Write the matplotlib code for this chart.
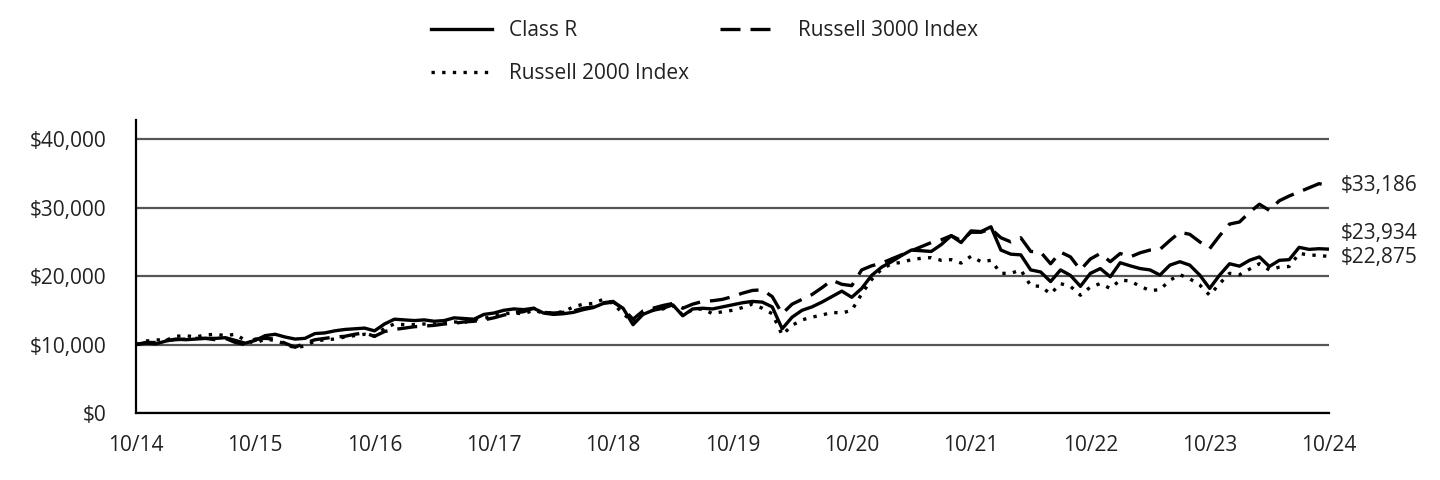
import matplotlib.pyplot as plt
from matplotlib.ticker import FuncFormatter

plt.rcParams['font.family'] = ['Open Sans', 'DejaVu Sans']

# month index 0 = 10/14, 120 = 10/24
class_r = [10000, 10200, 10100, 10500, 10800, 10700, 10800, 10900, 10900, 11000,
           10600, 10200, 10600, 11300, 11500, 11100, 10800, 10900, 11600, 11700,
           12000, 12200, 12300, 12400, 12000, 13000, 13700, 13600, 13500, 13600,
           13400, 13500, 13900, 13800, 13700, 14400, 14600, 15000, 15200, 15100,
           15300, 14600, 14400, 14500, 14700, 15100, 15400, 16000, 16200, 15300,
           12900, 14400, 15000, 15300, 15800, 14200, 15200, 15300, 15200, 15500,
           15800, 16100, 16300, 16200, 15500, 12300, 14000, 15000, 15500, 16200,
           17000, 17800, 16900, 18200, 20100, 21300, 22100, 23000, 23800, 23700,
           23600, 24600, 25900, 24900, 26600, 26500, 27200, 23800, 23200, 23100,
           20900, 20600, 19200, 20900, 20100, 18500, 20400, 21100, 19900, 21950,
           21500, 21100, 20900, 20150, 21600, 22100, 21600, 20150, 18200, 20150,
           21800, 21450, 22300, 22800, 21400, 22300, 22400, 24200, 23900, 24000,
           23934]

russell_3000 = [10000, 10300, 10300, 10600, 10700, 10800, 10900, 10900, 10700, 10900,
                10300, 10000, 10800, 10900, 10800, 10200, 9600, 10200, 10700, 10900,
                11100, 11200, 11500, 11700, 11200, 11900, 12200, 12400, 12600, 12700,
                12800, 13000, 13100, 13300, 13400, 13600, 13900, 14300, 14600, 14800,
                15300, 14700, 14600, 14700, 14900, 15300, 15500, 16100, 16300, 15200,
                13700, 14900, 15300, 15700, 16000, 15300, 15900, 16300, 16400, 16600,
                17000, 17500, 17900, 18000, 17000, 14500, 15900, 16600, 17300, 18300,
                19400, 18800, 18600, 20900, 21500, 21900, 22500, 23100, 23700, 24300,
                24900, 25300, 25900, 25200, 26400, 26400, 26900, 25600, 25000, 25600,
                23600, 23500, 21800, 23500, 22800, 20900, 22500, 23300, 22100, 23300,
                22800, 23400, 23800, 23900, 25200, 26400, 26100, 25000, 24000, 25900,
                27600, 27900, 29300, 30500, 29600, 31000, 31700, 32300, 32900, 33500,
                33186]

russell_2000 = [10000, 10500, 10700, 10600, 11200, 11300, 11100, 11400, 11500, 11300,
                11500, 10600, 10200, 10800, 10600, 10100, 9500, 9800, 10500, 10700,
                10800, 11100, 11300, 11500, 11200, 12400, 13000, 12900, 12900, 13000,
                12900, 13200, 13300, 13200, 13700, 13800, 14200, 14500, 14600, 14500,
                15000, 14600, 14600, 14800, 15500, 15900, 16000, 16600, 16000, 14500,
                13300, 14500, 15000, 15200, 15700, 14300, 15100, 15200, 14500, 14800,
                15000, 15400, 15900, 15300, 14500, 11400, 12800, 13600, 14000, 14300,
                14700, 14600, 15000, 17400, 19500, 21000, 21800, 22000, 22400, 22600,
                22700, 22300, 22400, 21900, 22900, 22100, 22300, 20400, 20400, 20900,
                18600, 18500, 17400, 18900, 18500, 17200, 18400, 18900, 18200, 19400,
                19300, 18500, 17900, 18000, 19400, 20200, 19600, 18700, 17200, 18900,
                20400, 20200, 21000, 21800, 20900, 21300, 21400, 23300, 23100, 23000,
                22875]

tick_labels = ['10/14', '10/15', '10/16', '10/17', '10/18', '10/19',
               '10/20', '10/21', '10/22', '10/23', '10/24']
months = list(range(len(class_r)))

fs = 15
txt = '#222222'

fig = plt.figure(figsize=(14.4, 4.8), dpi=100)
ax = fig.add_axes([0.0944, 0.1396, 0.8285, 0.6104])

lw = 2.4
ax.plot(months, class_r, color='black', lw=lw, label='Class R')
ax.plot(months, russell_3000, color='black', lw=lw, dashes=(6, 3), label='Russell 3000 Index')
ax.plot(months, russell_2000, color='black', lw=lw, dashes=(1, 2.2), label='Russell 2000 Index')

ax.set_xlim(0, 120)
ax.set_ylim(0, 42800)
ax.set_yticks([0, 10000, 20000, 30000, 40000])
ax.yaxis.set_major_formatter(FuncFormatter(lambda v, p: f'${v:,.0f}'))
ax.set_xticks(range(0, 121, 12))
ax.set_xticklabels(tick_labels)
ax.tick_params(length=0, labelsize=fs, colors=txt)
ax.tick_params(axis='x', pad=16)
ax.tick_params(axis='y', pad=21)
ax.grid(axis='y', color='#555555', lw=1.6)
ax.set_axisbelow(True)
for s in ['top', 'right']:
    ax.spines[s].set_visible(False)
for s in ['left', 'bottom']:
    ax.spines[s].set_linewidth(1.6)
    ax.spines[s].set_color('black')

# end value labels
ax.annotate('$33,186', xy=(120, russell_3000[-1]), xytext=(8.5, 0), textcoords='offset points',
            va='center', fontsize=fs, color=txt, annotation_clip=False)
ax.annotate('$23,934', xy=(120, class_r[-1]), xytext=(8.5, 11.5), textcoords='offset points',
            va='center', fontsize=fs, color=txt, annotation_clip=False)
ax.annotate('$22,875', xy=(120, russell_2000[-1]), xytext=(8.5, -1), textcoords='offset points',
            va='center', fontsize=fs, color=txt, annotation_clip=False)

handles, labels = ax.get_legend_handles_labels()
order = [0, 2, 1]
fig.legend([handles[i] for i in order], [labels[i] for i in order],
           loc='upper left', bbox_to_anchor=(0.2865, 0.997), ncol=2, frameon=False,
           fontsize=fs, handlelength=2.9, handletextpad=0.85, columnspacing=1.45,
           labelspacing=1.05, labelcolor=txt)

plt.savefig('out.png', dpi=100)
